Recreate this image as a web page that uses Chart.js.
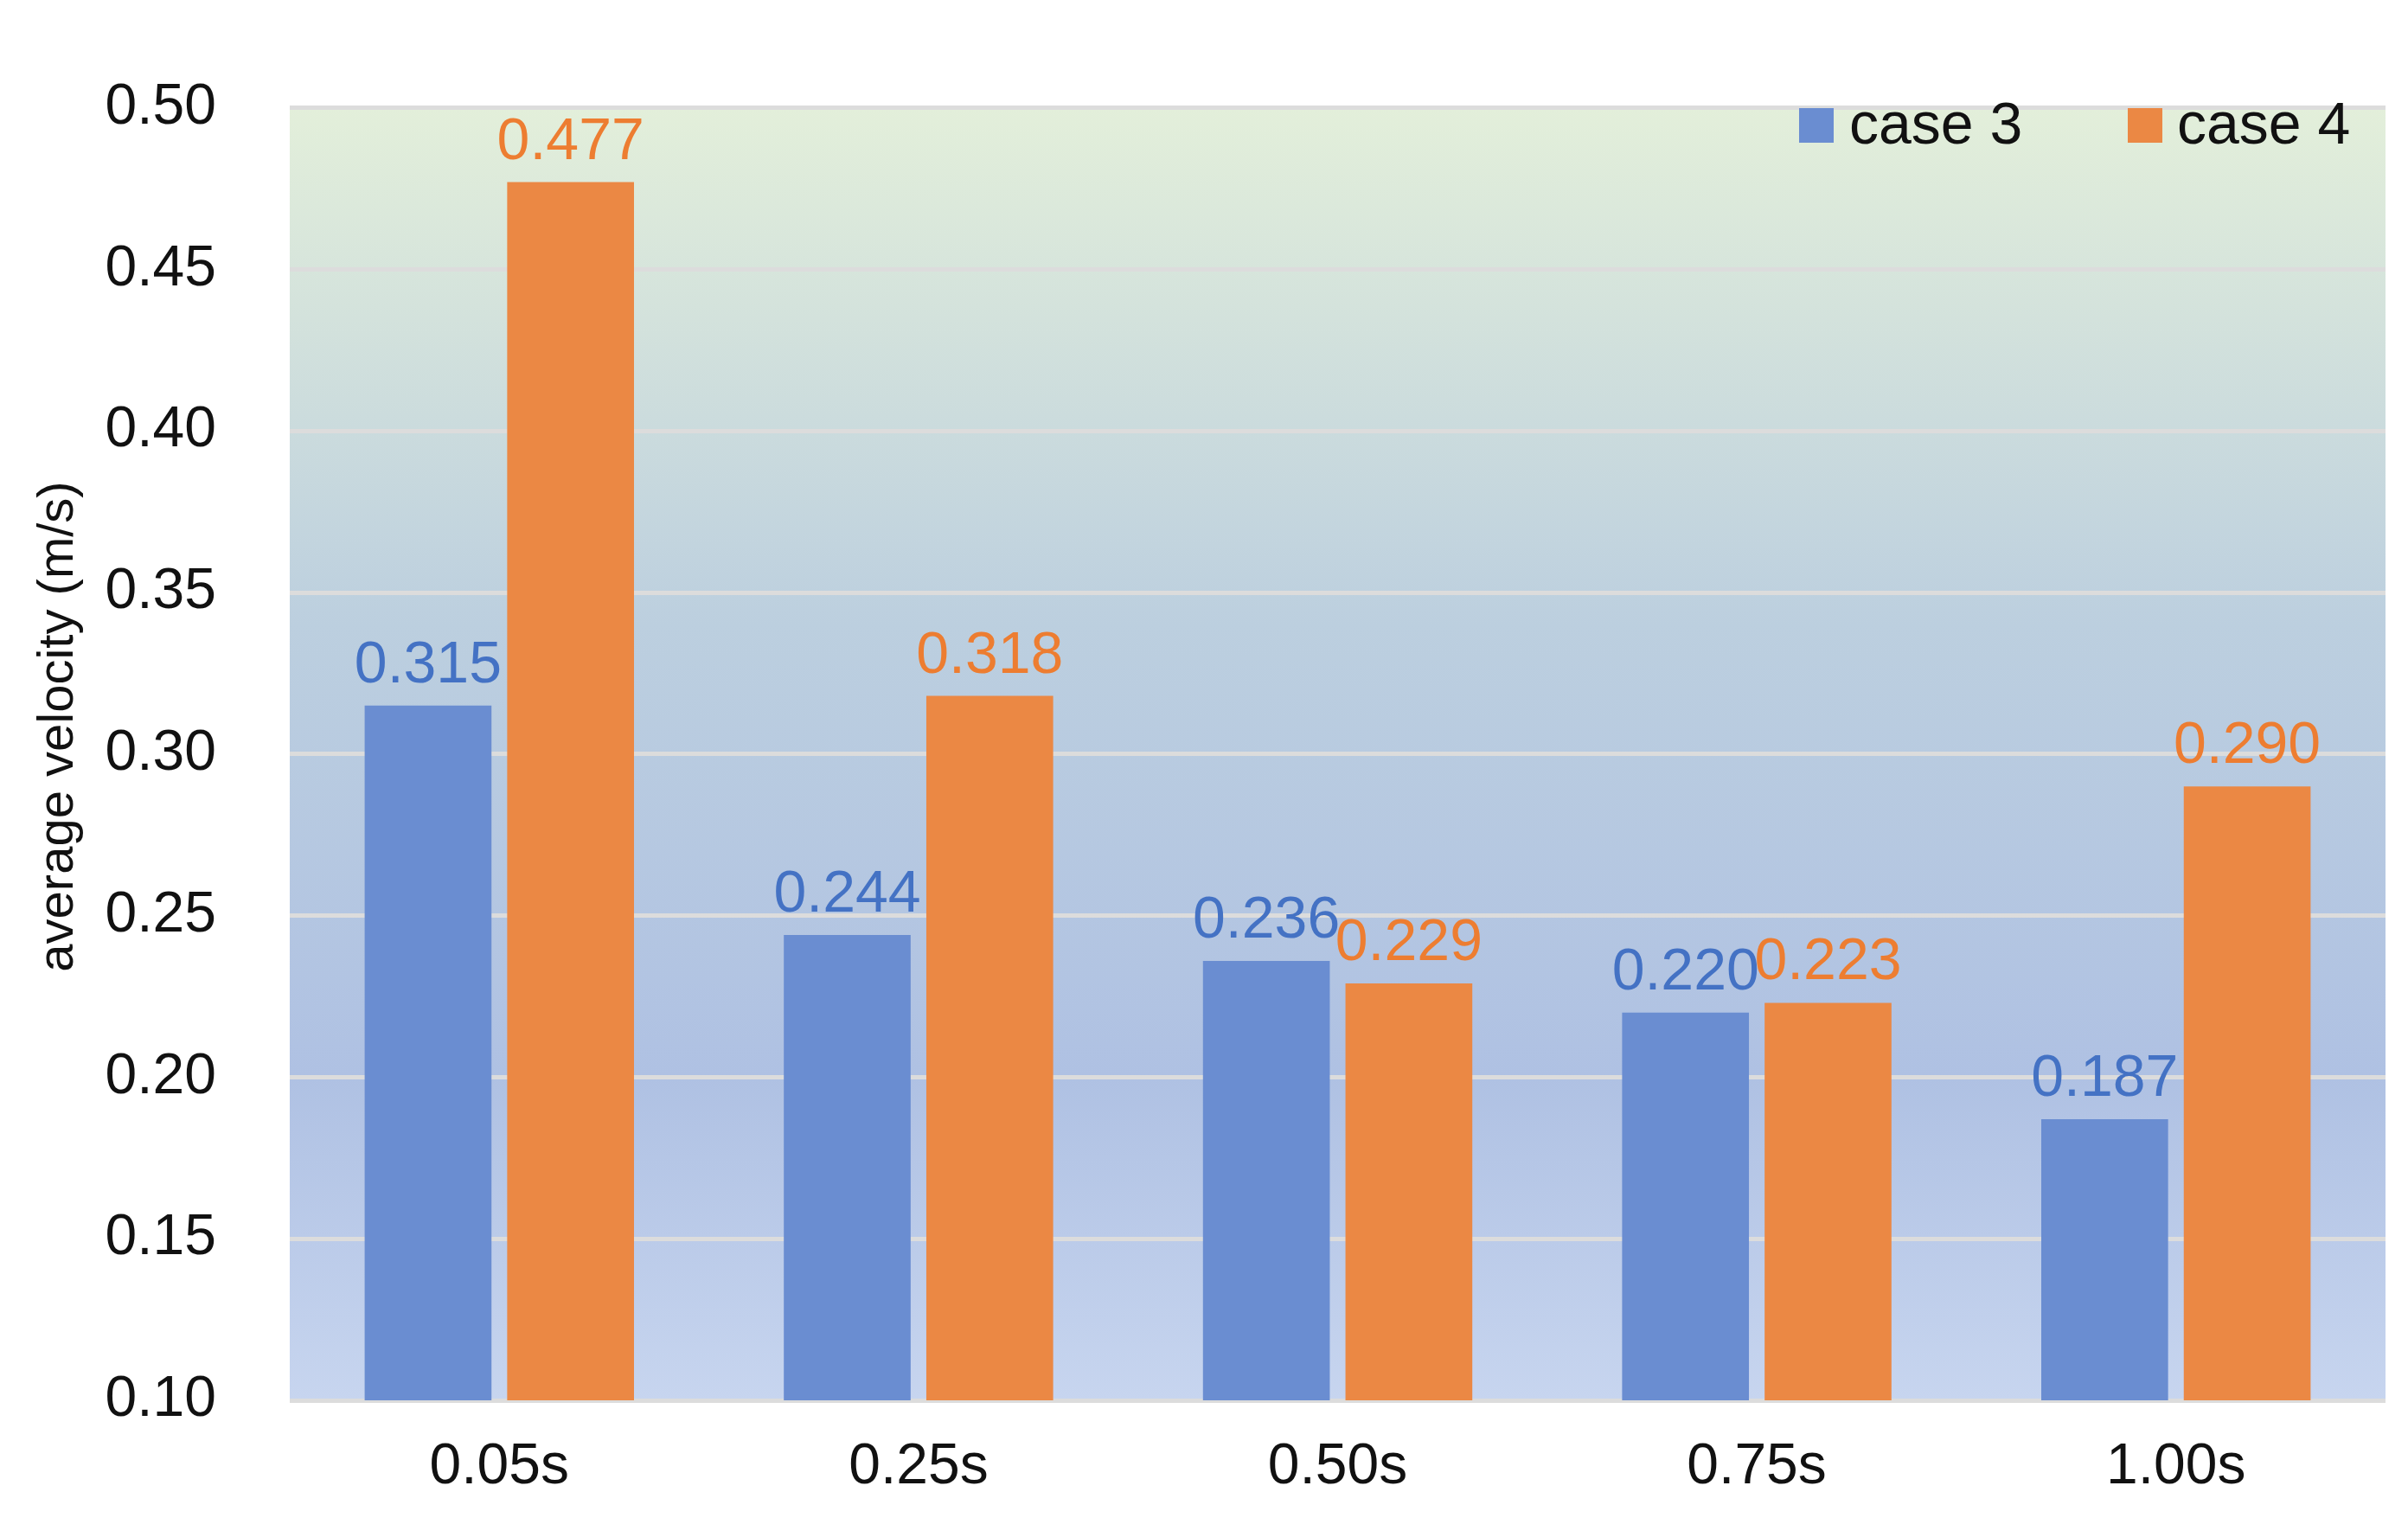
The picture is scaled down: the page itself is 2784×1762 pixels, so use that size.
<!DOCTYPE html>
<html><head><meta charset="utf-8">
<script src="https://cdn.jsdelivr.net/npm/chart.js@4"></script>
<style>html,body{margin:0;padding:0;background:#fff}#w{width:2784px;height:1762px}</style>
</head><body><div id="w"><canvas id="c"></canvas></div>
<script>
const categories = ["0.05s","0.25s","0.50s","0.75s","1.00s"];
const case3 = [0.315,0.244,0.236,0.220,0.187];
const case4 = [0.477,0.318,0.229,0.223,0.290];
const seriesNames = ["case 3","case 4"];
const yTicks = [0.10,0.15,0.20,0.25,0.30,0.35,0.40,0.45,0.50];
const barColors = ["#6a8dd1","#eb8844"];
const labelColors = ["#4472c4","#ed7d31"];
const FONT = "'Liberation Sans', Arial, sans-serif";

const deco = {
  id:'deco',
  beforeDraw(ch){
    const {ctx, chartArea:a} = ch;
    const g = ctx.createLinearGradient(0,a.top,0,a.bottom);
    g.addColorStop(0,'#e3efda');
    g.addColorStop(0.4,'#bccfdf');
    g.addColorStop(0.75,'#afc1e3');
    g.addColorStop(1,'#c7d5ef');
    ctx.save(); ctx.fillStyle=g; ctx.fillRect(a.left,a.top,a.right-a.left,a.bottom-a.top); ctx.restore();
  },
  afterDatasetsDraw(ch){
    const {ctx, chartArea:a} = ch;
    ctx.save();
    ctx.font = `68px ${FONT}`;
    ctx.textAlign='center'; ctx.textBaseline='alphabetic';
    ch.data.datasets.forEach((ds,i)=>{
      ch.getDatasetMeta(i).data.forEach((b,j)=>{
        ctx.fillStyle=labelColors[i];
        ctx.fillText(ds.data[j].toFixed(3), b.x, b.y-27);
      });
    });
    // legend
    const items=[[2080,2138],[2460,2517]];
    ctx.textAlign='left'; ctx.textBaseline='middle';
    items.forEach((p,i)=>{
      ctx.fillStyle=barColors[i]; ctx.fillRect(p[0],125,40,40);
      ctx.fillStyle='#111'; ctx.fillText(seriesNames[i],p[1],147);
    });
    // y title
    ctx.translate(68,840); ctx.rotate(-Math.PI/2);
    ctx.textAlign='center'; ctx.font=`58px ${FONT}`; ctx.fillStyle='#111';
    ctx.fillText('average velocity (m/s)',0,0);
    ctx.restore();
  }
};

new Chart(document.getElementById('c'),{
  type:'bar',
  data:{labels:categories,datasets:[
    {label:seriesNames[0],data:case3,backgroundColor:barColors[0]},
    {label:seriesNames[1],data:case4,backgroundColor:barColors[1]}
  ]},
  options:{
    responsive:true,maintainAspectRatio:false,animation:false,
    devicePixelRatio:1,
    layout:{padding:{top:57,right:26,left:0,bottom:0}},
    plugins:{legend:{display:false},tooltip:{enabled:false}},
    datasets:{bar:{barPercentage:0.89,categoryPercentage:0.68}},
    scales:{
      x:{grid:{display:false},border:{display:false},
         ticks:{color:'#111',font:{family:FONT,size:66},padding:30},
         afterFit:s=>{s.height=143;}},
      y:{min:0.10,max:0.50,afterBuildTicks:s=>{s.ticks=yTicks.map(v=>({value:v}));},
         grid:{color:'#dcdcdc',lineWidth:5,drawTicks:false},border:{display:false},
         ticks:{color:'#111',font:{family:FONT,size:66},padding:85,callback:v=>v.toFixed(2)},
         afterFit:s=>{s.width=335;}}
    }
  },
  plugins:[deco]
});
</script></body></html>
